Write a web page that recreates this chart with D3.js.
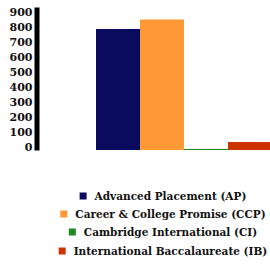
<!DOCTYPE html>
<html>
<head>
<meta charset="utf-8">
<script src="https://cdn.jsdelivr.net/npm/d3@7"></script>
<style>
  body { margin: 0; background: #fff; }
</style>
</head>
<body>
<svg id="chart" width="270" height="265"></svg>
<script>
// programs and values
var programs = ["Advanced Placement (AP)", "Career & College Promise (CCP)",
                "Cambridge International (CI)", "International Baccalaureate (IB)"]
var values = [804, 867, 7, 53]
var colors = ["#0a0a5e", "#ff9933", "#1f8a1f", "#cc3300"]
var yTicks = [0, 100, 200, 300, 400, 500, 600, 700, 800, 900]

var serif = "'DejaVu Serif', monospace"
var svg = d3.select("#chart")

var x = d3.scaleBand()
    .domain(programs)
    .range([96, 272])
    .padding(0)

var y = d3.scaleLinear()
    .domain([0, 950])
    .range([150, 7])

// bars
svg.selectAll("rect.bar")
    .data(programs)
    .enter()
    .append("rect")
    .attr("class", "bar")
    .attr("x", function (d) { return x(d) })
    .attr("y", function (d, i) { return y(values[i]) })
    .attr("width", x.bandwidth())
    .attr("height", function (d, i) { return y(0) - y(values[i]) })
    .attr("fill", function (d, i) { return colors[i] })

// y axis, thick black line
var yAxis = svg.append("g")
    .attr("transform", "translate(36.5,0)")
    .call(d3.axisLeft(y).tickValues(yTicks).tickSize(0).tickPadding(4))
yAxis.attr("font-family", null)
yAxis.select(".domain").attr("stroke", "#000").attr("stroke-width", 5)
yAxis.selectAll("text")
    .attr("dy", "0.08em")
    .style("font-family", serif)
    .style("font-size", "11px")
    .style("font-weight", "bold")
    .attr("fill", "#111")

// legend
var legend = svg.append("g")
var rowY = [196, 214, 232, 251]
programs.forEach(function (p, i) {
    var g = legend.append("g")
    var t = g.append("text")
        .attr("x", 15)
        .attr("y", rowY[i])
        .attr("dy", "0.36em")
        .style("font-family", serif)
        .style("font-size", "10.5px")
        .style("font-weight", "bold")
        .attr("fill", "#111")
        .text(p)
    var w = t.node().getComputedTextLength()
    g.append("rect")
        .attr("x", 0)
        .attr("y", rowY[i] - 3.5)
        .attr("width", 7)
        .attr("height", 7)
        .attr("fill", colors[i])
    g.attr("transform", "translate(" + (163 - (15 + w) / 2) + ",0)")
})
</script>
</body>
</html>
